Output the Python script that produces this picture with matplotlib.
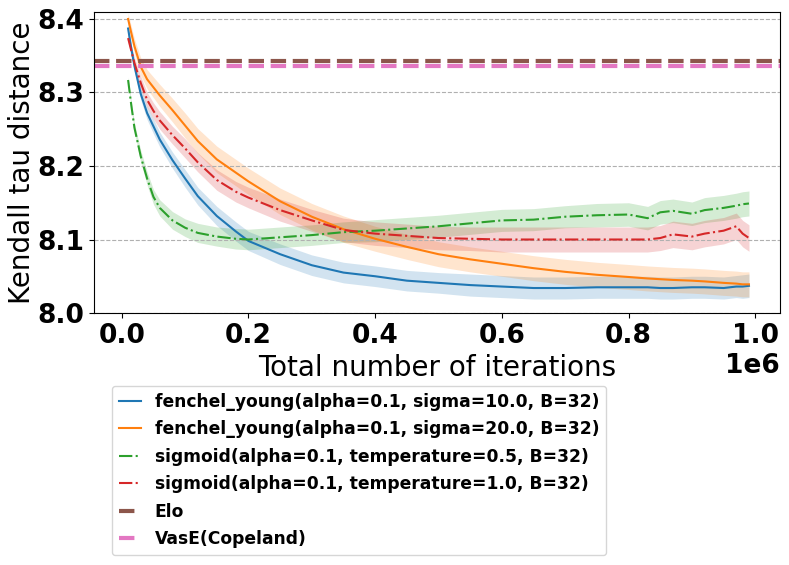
#!/usr/bin/env python3
"""Kendall tau distance vs total iterations for the ranking methods."""
import matplotlib
matplotlib.use('Agg')
import matplotlib.pyplot as plt
import numpy as np

# iteration checkpoints (in units of 1e6)
iters = [0.01, 0.015, 0.02, 0.03, 0.04, 0.05, 0.06, 0.08, 0.10, 0.12, 0.15,
         0.18, 0.20, 0.25, 0.30, 0.35, 0.40, 0.45, 0.50, 0.55, 0.60, 0.65,
         0.70, 0.75, 0.80, 0.83, 0.85, 0.87, 0.90, 0.92, 0.95, 0.97, 0.98,
         0.99]

fy_sigma10 = [8.387, 8.360, 8.336, 8.298, 8.272, 8.254, 8.236, 8.208, 8.183,
              8.159, 8.132, 8.111, 8.098, 8.080, 8.065, 8.055, 8.050, 8.044,
              8.041, 8.038, 8.036, 8.034, 8.034, 8.035, 8.035, 8.035, 8.034,
              8.034, 8.035, 8.035, 8.034, 8.036, 8.036, 8.037]
fy_sigma10_band = [0.006, 0.006, 0.007, 0.008, 0.009, 0.010, 0.010, 0.011,
                   0.012, 0.012, 0.013, 0.013, 0.013, 0.014, 0.014, 0.014,
                   0.014, 0.014, 0.014, 0.015, 0.015, 0.015, 0.015, 0.015,
                   0.015, 0.015, 0.015, 0.015, 0.015, 0.015, 0.015, 0.015,
                   0.016, 0.016]

fy_sigma20 = [8.400, 8.381, 8.363, 8.335, 8.318, 8.307, 8.296, 8.276, 8.255,
              8.234, 8.209, 8.191, 8.179, 8.152, 8.131, 8.114, 8.101, 8.090,
              8.080, 8.073, 8.067, 8.061, 8.056, 8.052, 8.049, 8.047, 8.046,
              8.045, 8.044, 8.043, 8.041, 8.040, 8.039, 8.039]
fy_sigma20_band = [0.008, 0.009, 0.010, 0.012, 0.013, 0.014, 0.015, 0.016,
                   0.017, 0.017, 0.018, 0.018, 0.018, 0.018, 0.018, 0.018,
                   0.017, 0.017, 0.017, 0.017, 0.017, 0.017, 0.017, 0.017,
                   0.017, 0.017, 0.017, 0.017, 0.017, 0.017, 0.017, 0.017,
                   0.017, 0.017]

sig_t05 = [8.317, 8.283, 8.252, 8.213, 8.183, 8.158, 8.143, 8.126, 8.116,
           8.109, 8.104, 8.101, 8.100, 8.103, 8.106, 8.110, 8.112, 8.115,
           8.118, 8.122, 8.126, 8.127, 8.131, 8.133, 8.134, 8.129, 8.137,
           8.139, 8.135, 8.140, 8.143, 8.146, 8.148, 8.149]
sig_t05_band = [0.004, 0.005, 0.006, 0.008, 0.009, 0.010, 0.011, 0.012,
                0.012, 0.013, 0.013, 0.014, 0.014, 0.014, 0.014, 0.014,
                0.015, 0.015, 0.015, 0.015, 0.015, 0.015, 0.015, 0.016,
                0.016, 0.016, 0.016, 0.016, 0.016, 0.017, 0.017, 0.017,
                0.017, 0.017]

sig_t10 = [8.374, 8.357, 8.340, 8.313, 8.290, 8.275, 8.262, 8.242, 8.224,
           8.205, 8.181, 8.165, 8.157, 8.140, 8.126, 8.113, 8.108, 8.105,
           8.102, 8.101, 8.100, 8.100, 8.100, 8.100, 8.100, 8.100, 8.102,
           8.107, 8.104, 8.108, 8.112, 8.118, 8.108, 8.102]
sig_t10_band = [0.006, 0.007, 0.008, 0.009, 0.010, 0.011, 0.012, 0.012,
                0.013, 0.013, 0.014, 0.014, 0.014, 0.015, 0.015, 0.016,
                0.016, 0.016, 0.016, 0.016, 0.017, 0.017, 0.017, 0.017,
                0.017, 0.017, 0.017, 0.018, 0.018, 0.018, 0.018, 0.018,
                0.018, 0.018]

elo_value = 8.343
vase_value = 8.3355

series = [
    ('fenchel_young(alpha=0.1, sigma=10.0, B=32)', fy_sigma10, fy_sigma10_band, '#1f77b4', '-'),
    ('fenchel_young(alpha=0.1, sigma=20.0, B=32)', fy_sigma20, fy_sigma20_band, '#ff7f0e', '-'),
    ('sigmoid(alpha=0.1, temperature=0.5, B=32)', sig_t05, sig_t05_band, '#2ca02c', '-.'),
    ('sigmoid(alpha=0.1, temperature=1.0, B=32)', sig_t10, sig_t10_band, '#d62728', '-.'),
]


def plot_kendall_tau():
    fig = plt.figure(figsize=(7.89, 5.65), dpi=100)
    ax = fig.add_axes([0.119, 0.446, 0.8696, 0.5334])

    x = np.array(iters) * 1e6
    for label, mean, band, color, ls in series:
        mean = np.array(mean)
        band = np.array(band)
        ax.plot(x, mean, color=color, linestyle=ls, linewidth=1.5, label=label)
        ax.fill_between(x, mean - band, mean + band, color=color, alpha=0.2,
                        linewidth=0)

    ax.axhline(elo_value, color='#8c564b', linestyle='--', linewidth=3, label='Elo')
    ax.axhline(vase_value, color='#e377c2', linestyle='--', linewidth=3,
               label='VasE(Copeland)')

    ax.set_xlim(-0.044e6, 1.039e6)
    ax.set_ylim(8.0, 8.41)
    ax.set_yticks([8.0, 8.1, 8.2, 8.3, 8.4])
    ax.grid(axis='y', linestyle='--', color='#b0b0b0', linewidth=0.8)

    ax.set_xlabel('Total number of iterations', fontsize=20)
    ax.set_ylabel('Kendall tau distance', fontsize=20, labelpad=1)
    for tick in ax.get_xticklabels() + ax.get_yticklabels():
        tick.set_fontsize(19)
        tick.set_fontweight('bold')
    ax.xaxis.get_offset_text().set_fontsize(19)
    ax.xaxis.get_offset_text().set_fontweight('bold')

    fig.legend(*ax.get_legend_handles_labels(), loc='upper left',
               bbox_to_anchor=(0.142, 0.3173), borderaxespad=0,
               handlelength=1.3, labelspacing=0.56,
               prop={'size': 12.3, 'weight': 'bold'})

    fig.savefig('out.png', dpi=100)
    plt.close(fig)


if __name__ == '__main__':
    plot_kendall_tau()
